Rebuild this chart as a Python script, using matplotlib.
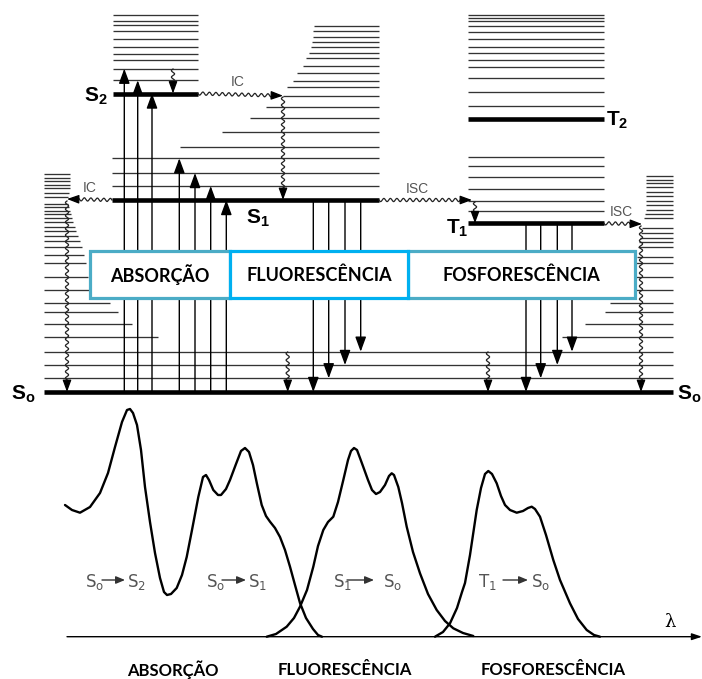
import numpy as np
import matplotlib.pyplot as plt
from matplotlib.patches import Rectangle

plt.rcParams['mathtext.fontset'] = 'custom'
plt.rcParams['mathtext.rm'] = 'Liberation Sans'
plt.rcParams['mathtext.it'] = 'Liberation Sans'
plt.rcParams['mathtext.bf'] = 'Liberation Sans:bold'

# -----------------------------
# Energy levels (pixel coordinates of the original figure)
# -----------------------------
s0_y = 392
s0_x = (44, 673)
s0_vib_y = [378.3, 365, 351.7]

s2_y = 93.5
s2_x = (113, 198)
s2_vib_y = [14.7, 20.7, 25.3, 30.8, 39.3, 46.7, 54, 60.3, 68.7, 80.3]

s1_y = 200
s1_x = (112, 379)
s1_vib_y = [26, 30.7, 36.5, 42, 47.3, 52.7, 58.3, 66, 73.3, 80.5, 86.5, 95.7, 107.3, 118.3, 131.7, 146.7, 158.3, 173, 186]
s1_vib_start = [314, 313, 313, 312, 311, 309, 306, 303, 297, 293, 287, 283, 266, 250, 222, 180, 112, 112, 112]

t_x = (468, 604)
t2_y = 119.3
t1_y = 223.3
t_vib_y = [14.7, 17.5, 20.7, 26, 32.3, 39.3, 46.7, 52.7, 60, 67.3, 77.7, 92.3, 106,
           156.7, 165.7, 177.3, 189, 200.5, 211]

left_ladder_y = [174, 177.5, 181, 184.5, 188, 193, 196.5, 203.5, 207, 210.5, 214, 218, 222,
                 226.5, 231, 236, 241, 247, 255, 263, 277, 290, 303, 312, 324, 337]
left_ladder_end = [70, 70, 70, 70, 70, 69, 68, 68, 69, 70, 71, 72, 73,
                   75, 76, 78, 80, 82, 84, 86, 88, 89, 110, 118, 132, 158]

right_ladder_y = [176, 179.5, 183, 187, 191.5, 196, 200.5, 205, 209.5, 213.5, 218, 228,
                  233, 238, 242, 247, 257, 263, 277, 290, 303, 312, 324, 337]
right_ladder_start = [646, 646, 646, 646, 646, 646, 646, 646, 646, 645, 644, 642,
                      641, 640, 639, 638, 637, 636, 636, 635, 610, 605, 585, 562]

# radiative transitions
abs_x = [124.3, 137.7, 152, 179.3, 195, 210.7, 226.3]
abs_top = [68.7, 80.3, 93.5, 158.3, 173, 186, 200]
fl_x = [313.3, 328.7, 345, 360.7]
fl_end = [392, 378.3, 365, 351.7]
ph_x = [526, 540.7, 557.3, 572]
ph_end = [392, 378.3, 365, 351.7]

# spectra
abs_cx = [65, 72, 80, 90, 100, 108, 115, 122, 127, 130, 133, 137, 141, 145, 150, 155, 160,
          164, 167, 171, 176.7, 182, 186.7, 192, 198.3, 203, 206, 209, 213.3, 218, 221, 226,
          230, 236, 241, 245, 249, 253, 257, 261.7, 266, 270, 275, 280, 285, 290, 295, 300,
          306, 313, 318, 322]
abs_cy = [505, 510, 512.7, 507, 493, 473, 447, 422, 410, 409, 413, 425, 450, 487, 522, 553, 578,
          592, 595, 594, 588, 575, 557, 530, 497, 477, 475, 480, 490, 495, 495, 489,
          480, 464, 451, 448, 452, 465, 484, 505, 516, 521.7, 528, 537, 550, 566.7, 585, 603,
          618, 629, 635, 636.7]
fl_cx = [266.7, 276, 286.7, 294, 300, 307, 313.3, 318, 323.3, 328, 333.3, 338, 343.3, 348, 351,
         354, 357, 360, 363.3, 368, 372, 376, 380, 385, 389, 391.7, 394, 398.3, 402, 406.7, 413,
         420, 428, 436.7, 445, 453.3, 463, 473.3]
fl_cy = [636.7, 634, 626.7, 618, 606.7, 590, 566.7, 546, 530, 522, 516.7, 502, 480, 460, 451,
         448, 450, 458, 467, 480, 490, 494, 492, 485, 476, 473.3, 475, 487, 503, 526.7, 552,
         573.3, 594, 610, 621, 628.3, 633, 636]
ph_cx = [435, 443, 450, 457, 462, 465, 470, 476.7, 481, 485, 488.3, 492, 496.7, 501, 505, 510,
         516.7, 523, 528, 531.7, 535, 540, 546, 553.3, 560, 570, 578, 586.7, 594, 600]
ph_cy = [636.7, 632, 623.3, 608, 592, 583, 555, 510, 488, 474, 471, 474, 483.3, 496, 505, 510,
         512.7, 511, 508, 506.7, 509, 516.7, 535, 560, 580, 603.3, 619, 630, 635, 636.7]

box_names = ['ABSORÇÃO', 'FLUORESCÊNCIA', 'FOSFORESCÊNCIA']
box_edges = [90, 230, 408, 635]
box_colors = ['#4BACC6', '#00B0F0', '#4BACC6']
bottom_x = [173, 345, 553]

# -----------------------------
# Figure
# -----------------------------
fig = plt.figure(figsize=(7.02, 6.79), dpi=100)
ax = fig.add_axes([0, 0, 1, 1])
ax.set_xlim(0, 702)
ax.set_ylim(679, 0)
ax.axis('off')

THIN = dict(color='#333333', lw=0.95, capstyle='butt')
THICK = dict(color='black', lw=3.3, capstyle='butt')


def arrow(x0, y0, x1, y1, scale=15, lw=1.0):
    ax.annotate('', xy=(x1, y1), xytext=(x0, y0),
                arrowprops=dict(arrowstyle='-|>,head_length=0.6,head_width=0.22',
                                mutation_scale=scale, lw=lw, color='black',
                                shrinkA=0, shrinkB=0))


def wavy(x0, y0, x1, y1, amp=1.6, wl=6.5):
    dx, dy = x1 - x0, y1 - y0
    L = np.hypot(dx, dy)
    ux, uy = dx / L, dy / L
    s = np.linspace(0, L - 9, 300)
    w = amp * np.sin(2 * np.pi * s / wl)
    ax.plot(x0 + ux * s - uy * w, y0 + uy * s + ux * w, color='#222222', lw=0.9)
    arrow(x1 - ux * 10, y1 - uy * 10, x1, y1, scale=12, lw=0.9)


# S0 and its vibrational levels
ax.hlines(s0_vib_y, *s0_x, **THIN)
ax.hlines(s0_y, *s0_x, **THICK)
ax.hlines(left_ladder_y, s0_x[0], left_ladder_end, **THIN)
ax.hlines(right_ladder_y, right_ladder_start, s0_x[1], **THIN)

# S2 block
ax.hlines(s2_vib_y, *s2_x, **THIN)
ax.hlines(s2_y, *s2_x, **THICK)

# S1 block
ax.hlines(s1_vib_y, s1_vib_start, s1_x[1], **THIN)
ax.hlines(s1_y, *s1_x, **THICK)

# T block
ax.hlines(t_vib_y, *t_x, **THIN)
ax.hlines([t2_y, t1_y], *t_x, **THICK)

# absorption / fluorescence / phosphorescence arrows
for x, yt in zip(abs_x, abs_top):
    arrow(x, s0_y, x, yt)
for x, ye in zip(fl_x, fl_end):
    arrow(x, s1_y, x, ye)
for x, ye in zip(ph_x, ph_end):
    arrow(x, t1_y, x, ye)

# non-radiative processes
wavy(173, 69, 173, s2_y)
wavy(s2_x[1], s2_y, 283, 95.7)
wavy(283, 97, 283, s1_y)
wavy(s1_x[0], s1_y, 67, 199)
wavy(67, 201, 67, s0_y)
wavy(s1_x[1], s1_y, 472, 200)
wavy(475, 202, 475, t1_y)
wavy(t_x[1], t1_y, 642, 224)
wavy(641, 226, 641, s0_y)
wavy(287.7, 352, 287.7, s0_y)
wavy(488, 352, 488, s0_y)

small = dict(color='#555555', fontsize=10, family='Liberation Sans', ha='center', va='center')
ax.text(238, 82, 'IC', **small)
ax.text(90, 188, 'IC', **small)
ax.text(417, 189, 'ISC', **small)
ax.text(621, 212, 'ISC', **small)

lab = dict(fontsize=15, color='black', va='center')
ax.text(108, 96, r'$\mathbf{S_2}$', ha='right', **lab)
ax.text(246, 218, r'$\mathbf{S_1}$', ha='left', **lab)
ax.text(446, 228, r'$\mathbf{T_1}$', ha='left', **lab)
ax.text(606, 120, r'$\mathbf{T_2}$', ha='left', **lab)
ax.text(11, 394, r'$\mathbf{S_o}$', ha='left', **lab)
ax.text(677, 394, r'$\mathbf{S_o}$', ha='left', **lab)

# boxes
for i, (name, c) in enumerate(zip(box_names, box_colors)):
    if i == 1:
        continue
    ax.add_patch(Rectangle((box_edges[i], 251), box_edges[i + 1] - box_edges[i], 47,
                           facecolor='white', edgecolor=c, lw=2.3, zorder=5))
ax.add_patch(Rectangle((box_edges[1], 251), box_edges[2] - box_edges[1], 47,
                       facecolor='white', edgecolor=box_colors[1], lw=2.3, zorder=6))
for i, name in enumerate(box_names):
    cx = (box_edges[i] + box_edges[i + 1]) / 2
    ax.text(cx, 275, name, ha='center', va='center', fontsize=13, fontweight='bold',
            family='Lato', color='black', zorder=7)

# spectra
ax.annotate('', xy=(702, 636.7), xytext=(67, 636.7),
            arrowprops=dict(arrowstyle='-|>,head_length=0.6,head_width=0.2',
                            mutation_scale=10, lw=1.0, color='black', shrinkA=0, shrinkB=0))
ax.text(670, 622, 'λ', fontsize=13, family='DejaVu Serif', ha='center', va='center')
for cx, cy in [(abs_cx, abs_cy), (fl_cx, fl_cy), (ph_cx, ph_cy)]:
    ax.plot(cx, cy, color='black', lw=1.7, solid_joinstyle='round', solid_capstyle='round')

tr = dict(fontsize=12, color='#555555', va='center', ha='left')
grey_arrow = dict(arrowstyle='-|>,head_length=0.6,head_width=0.25', mutation_scale=9,
                  lw=1.0, color='#333333', shrinkA=0, shrinkB=0)
transitions = [(r'$\mathregular{S_o}$', 85, 102, 125, r'$\mathregular{S_2}$', 127),
               (r'$\mathregular{S_o}$', 206, 222, 246, r'$\mathregular{S_1}$', 248),
               (r'$\mathregular{S_1}$', 333, 347, 374, r'$\mathregular{S_o}$', 383),
               (r'$\mathregular{T_1}$', 478, 503, 528, r'$\mathregular{S_o}$', 531)]
for a, xa, x0, x1, b, xb in transitions:
    ax.text(xa, 582, a, **tr)
    ax.annotate('', xy=(x1, 580), xytext=(x0, 580), arrowprops=grey_arrow)
    ax.text(xb, 582, b, **tr)

for name, x in zip(box_names, bottom_x):
    ax.text(x, 670, name, ha='center', va='center', fontsize=12, fontweight='bold',
            family='Lato', color='black')

fig.savefig('out.png', dpi=100)
